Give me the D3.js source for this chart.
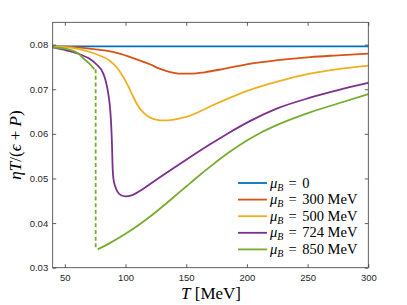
<!DOCTYPE html>
<html><head><meta charset="utf-8">
<script src="https://cdn.jsdelivr.net/npm/d3@7"></script>
<style>body{margin:0;background:#fff}</style>
</head><body><svg id="c" width="407" height="305"></svg>
<script>
// ---- data ----
const xTicks = [50, 100, 150, 200, 250, 300];
const yTicks = [0.03, 0.04, 0.05, 0.06, 0.07, 0.08];
const seriesNames = ["0", "300 MeV", "500 MeV", "724 MeV", "850 MeV"];
const seriesColors = ["#0072BD", "#D95319", "#EDB120", "#7E2F8E", "#77AC30"];

const T_mu0 = [40, 300];
const v_mu0 = [0.0796, 0.0796];

const T_mu300 = [40, 55, 70, 85, 95, 105, 112, 120, 128, 136, 145, 155, 165, 180, 202, 225, 252, 275, 300];
const v_mu300 = [0.0796, 0.0795, 0.0791, 0.0786, 0.0780, 0.0771, 0.0764, 0.0756, 0.0746, 0.0739, 0.0735, 0.0735, 0.0738, 0.0745, 0.0757, 0.0765, 0.0772, 0.0776, 0.0780];

const T_mu500 = [40, 55, 70, 80, 87, 93, 98, 102, 106, 110, 115, 120, 125, 131, 140, 150, 175, 202, 225, 252, 275, 300];
const v_mu500 = [0.0796, 0.0793, 0.0784, 0.0774, 0.0764, 0.0748, 0.0728, 0.0708, 0.0685, 0.0664, 0.0647, 0.0637, 0.0632, 0.0630, 0.0632, 0.0638, 0.0668, 0.0698, 0.0717, 0.0735, 0.0745, 0.0753];

const T_mu724 = [40, 50, 57, 65, 70.7, 76, 81.7, 84, 85.8, 87, 88, 88.8, 89.3, 90, 91.5, 93.5, 96, 100, 105, 110, 120, 128, 140, 150, 170, 185, 202, 225, 252, 275, 300];
const v_mu724 = [0.0794, 0.0788, 0.0783, 0.0775, 0.0768, 0.0756, 0.0735, 0.0715, 0.0690, 0.0665, 0.0630, 0.0580, 0.0530, 0.0500, 0.0482, 0.0470, 0.0463, 0.0460, 0.0462, 0.0469, 0.0487, 0.0502, 0.0524, 0.0542, 0.0577, 0.0602, 0.0628, 0.0657, 0.0681, 0.0698, 0.0714];

const T_mu850_low = [40, 45, 50, 57, 62, 65.2, 70, 74.3];
const v_mu850_low = [0.0794, 0.0793, 0.0791, 0.0786, 0.0778, 0.0769, 0.0758, 0.0745];
const T_mu850_jump = [75.4, 75.4];
const v_mu850_jump = [0.0745, 0.0343];
const T_mu850_high = [77.1, 87, 100, 110, 120, 130, 140, 150, 160, 170, 185, 200, 211, 225, 252, 275, 300];
const v_mu850_high = [0.0341, 0.0355, 0.0376, 0.0394, 0.0414, 0.0436, 0.0459, 0.0482, 0.0505, 0.0527, 0.0558, 0.0585, 0.0602, 0.0620, 0.0648, 0.0668, 0.0689];

// ---- drawing ----
const svg = d3.select("#c");
const x = d3.scaleLinear().domain([40, 300]).range([52.7, 368.3]);
const y = d3.scaleLinear().domain([0.03, 0.085]).range([267.7, 22.3]);
const axisCol = "#3a3a3a";
const tickFont = "'Liberation Sans', Arial, sans-serif";

const zip = (a, b) => a.map((t, i) => [t, b[i]]);
const line = d3.line().x(d => x(d[0])).y(d => y(d[1])).curve(d3.curveMonotoneX);
const lineStraight = d3.line().x(d => x(d[0])).y(d => y(d[1]));

const plot = svg.append("g");
const lines = [
  [zip(T_mu0, v_mu0), 0],
  [zip(T_mu300, v_mu300), 1],
  [zip(T_mu500, v_mu500), 2],
  [zip(T_mu724, v_mu724), 3],
  [zip(T_mu850_low, v_mu850_low), 4],
  [zip(T_mu850_high, v_mu850_high), 4]
];
lines.forEach(([pts, ci]) => {
  plot.append("path").attr("d", line(pts)).attr("fill", "none")
    .attr("stroke", seriesColors[ci]).attr("stroke-width", 1.8);
});
plot.append("path").attr("d", lineStraight(zip(T_mu850_jump, v_mu850_jump)))
  .attr("fill", "none").attr("stroke", seriesColors[4]).attr("stroke-width", 1.8)
  .attr("stroke-dasharray", "4,2.7");

// axes box
const [x0, x1] = x.range();
const [yb, yt] = y.range();
const ax = svg.append("g").attr("stroke", axisCol).attr("stroke-width", 0.8).attr("fill", "none");
ax.append("rect").attr("x", x0).attr("y", yt).attr("width", x1 - x0).attr("height", yb - yt);

const xAxisB = d3.axisBottom(x).tickValues(xTicks).tickSizeInner(-3.5).tickSizeOuter(0).tickPadding(7).tickFormat(d3.format("d"));
const gxb = svg.append("g").attr("transform", `translate(0,${yb})`).call(xAxisB);
const xAxisT = d3.axisTop(x).tickValues(xTicks).tickSizeInner(-3.5).tickSizeOuter(0).tickFormat("");
const gxt = svg.append("g").attr("transform", `translate(0,${yt})`).call(xAxisT);
const yAxisL = d3.axisLeft(y).tickValues(yTicks).tickSizeInner(-3.5).tickSizeOuter(0).tickPadding(4.5).tickFormat(d3.format(".2f"));
const gyl = svg.append("g").attr("transform", `translate(${x0},0)`).call(yAxisL);
const yAxisR = d3.axisRight(y).tickValues(yTicks).tickSizeInner(-3.5).tickSizeOuter(0).tickFormat("");
const gyr = svg.append("g").attr("transform", `translate(${x1},0)`).call(yAxisR);
[gxb, gxt, gyl, gyr].forEach(g => {
  g.select(".domain").remove();
  g.selectAll(".tick line").attr("stroke", axisCol).attr("stroke-width", 0.8);
  g.selectAll("text").attr("fill", "#262626").attr("font-family", tickFont).attr("font-size", 9.5);
});

// axis labels
const serif2 = "'Liberation Serif','Times New Roman',serif";
const xl = svg.append("text").attr("x", 211).attr("y", 298.5).attr("text-anchor", "middle")
  .attr("font-family", serif2).attr("font-size", 17).attr("fill", "#000");
xl.append("tspan").attr("font-style", "italic").text("T");
xl.append("tspan").text(" [MeV]");

const yl = svg.append("text").attr("transform", "translate(21,145) rotate(-90)").attr("text-anchor", "middle")
  .attr("font-family", serif2).attr("font-size", 17).attr("fill", "#000");
yl.append("tspan").attr("font-style", "italic").text("ηT");
yl.append("tspan").text("/(");
yl.append("tspan").attr("font-style", "italic").text("ϵ");
yl.append("tspan").text(" + ");
yl.append("tspan").attr("font-style", "italic").text("P");
yl.append("tspan").text(")");

// legend
const leg = svg.append("g");
const legY0 = 183, legDy = 16.6;
seriesNames.forEach((name, i) => {
  const yy = legY0 + i * legDy;
  leg.append("line").attr("x1", 238).attr("x2", 267).attr("y1", yy).attr("y2", yy)
    .attr("stroke", seriesColors[i]).attr("stroke-width", 1.8);
  const t = leg.append("text").attr("x", 270).attr("y", yy + 4.5)
    .attr("font-family", serif2).attr("font-size", 14.5).attr("fill", "#000");
  t.append("tspan").attr("font-style", "italic").text("μ");
  t.append("tspan").attr("font-style", "italic").attr("font-size", 10).attr("dy", 3).text("B");
  t.append("tspan").attr("dy", -3).attr("dx", 5).text("=");
  t.append("tspan").attr("dx", 2).text(" " + name);
});
</script></body></html>
